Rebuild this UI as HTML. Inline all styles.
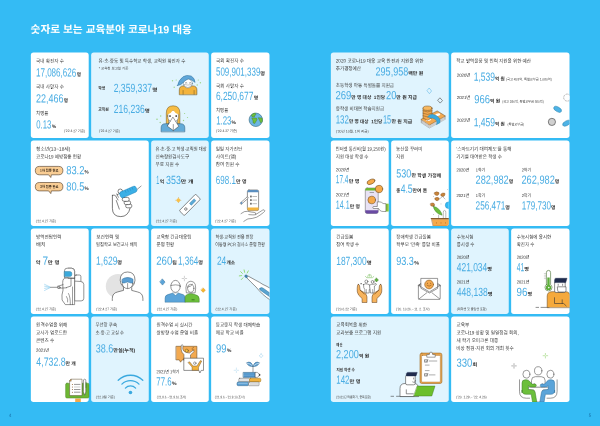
<!DOCTYPE html>
<html lang="ko">
<head>
<meta charset="utf-8">
<title>숫자로 보는 교육분야 코로나19 대응</title>
<style>
html,body{margin:0;padding:0;background:#34bbf4;}
body{width:600px;height:426px;overflow:hidden;position:relative;font-family:"Liberation Sans", "Noto Sans CJK KR", sans-serif;}
svg{display:block;position:absolute;left:0;top:0;}
text{font-family:"Liberation Sans", "Noto Sans CJK KR", sans-serif;white-space:pre;}
.title{font-size:10.65px;font-weight:700;fill:#ffffff;}
.lab{font-size:5.15px;font-weight:400;fill:#3c3c3c;}
.num{font-size:11.9px;font-weight:400;fill:#4aade3;}
.unit{font-size:4.9px;font-weight:700;fill:#303030;}
.sub{font-size:4.5px;font-weight:400;fill:#262626;}
.subb{font-size:4.2px;font-weight:700;fill:#333333;}
.foot{font-size:3.5px;font-weight:400;fill:#3c3c3c;}
.badge{font-size:3.7px;font-weight:700;fill:#3a2a1a;}
.pg{font-size:4.6px;font-weight:700;fill:#1c7db6;}
</style>
</head>
<body>
<svg width="600" height="426" viewBox="0 0 600 426">
<rect width="600" height="426" fill="#34bbf4"/>
<g id="cards">
<rect x="30.85" y="52.45" width="57.85" height="85.55" rx="2.7" fill="#ffffff"/>
<rect x="91.15" y="52.45" width="117.60" height="85.55" rx="2.7" fill="#e0f4fe"/>
<rect x="211.15" y="52.45" width="58.35" height="85.55" rx="2.7" fill="#ffffff"/>
<rect x="30.85" y="140.50" width="117.90" height="85.50" rx="2.7" fill="#ffffff"/>
<rect x="151.15" y="140.50" width="57.60" height="85.50" rx="2.7" fill="#e0f4fe"/>
<rect x="211.15" y="140.50" width="58.35" height="85.50" rx="2.7" fill="#ffffff"/>
<rect x="30.85" y="228.50" width="57.85" height="85.50" rx="2.7" fill="#ffffff"/>
<rect x="91.15" y="228.50" width="57.60" height="85.50" rx="2.7" fill="#ffffff"/>
<rect x="151.15" y="228.50" width="57.60" height="85.50" rx="2.7" fill="#ffffff"/>
<rect x="211.15" y="228.50" width="58.35" height="85.50" rx="2.7" fill="#e0f4fe"/>
<rect x="30.85" y="316.50" width="57.85" height="85.50" rx="2.7" fill="#ffffff"/>
<rect x="91.15" y="316.50" width="57.60" height="85.50" rx="2.7" fill="#e0f4fe"/>
<rect x="151.15" y="316.50" width="57.60" height="85.50" rx="2.7" fill="#ffffff"/>
<rect x="211.15" y="316.50" width="58.35" height="85.50" rx="2.7" fill="#ffffff"/>
<rect x="330.85" y="52.45" width="117.90" height="85.55" rx="2.7" fill="#e0f4fe"/>
<rect x="451.15" y="52.45" width="118.35" height="85.55" rx="2.7" fill="#ffffff"/>
<rect x="330.85" y="140.50" width="57.85" height="85.50" rx="2.7" fill="#ffffff"/>
<rect x="391.15" y="140.50" width="57.60" height="85.50" rx="2.7" fill="#ffffff"/>
<rect x="451.15" y="140.50" width="118.35" height="85.50" rx="2.7" fill="#ffffff"/>
<rect x="330.85" y="228.50" width="57.85" height="85.50" rx="2.7" fill="#ffffff"/>
<rect x="391.15" y="228.50" width="57.60" height="85.50" rx="2.7" fill="#ffffff"/>
<rect x="451.15" y="228.50" width="57.60" height="85.50" rx="2.7" fill="#e0f4fe"/>
<rect x="511.15" y="228.50" width="58.35" height="85.50" rx="2.7" fill="#ffffff"/>
<rect x="330.85" y="316.50" width="117.90" height="85.50" rx="2.7" fill="#e0f4fe"/>
<rect x="451.15" y="316.50" width="118.35" height="85.50" rx="2.7" fill="#ffffff"/>
</g>
<g id="icons">
<defs>
<clipPath id="clipJ"><rect x="211.15" y="228.5" width="58.35" height="85.5" rx="2.7"/></clipPath>
<clipPath id="clipP"><rect x="451.15" y="52.45" width="118.35" height="85.55" rx="2.7"/></clipPath>
<clipPath id="clipR"><rect x="391.15" y="140.5" width="57.6" height="85.5" rx="2.7"/></clipPath>
<clipPath id="clipW"><rect x="511.15" y="228.5" width="58.35" height="85.5" rx="2.7"/></clipPath>
<clipPath id="clipY"><rect x="451.15" y="316.5" width="118.35" height="85.5" rx="2.7"/></clipPath>
</defs>

<!-- B1: girl with mask -->
<g id="ic-girl" stroke-linejoin="round" stroke-linecap="round">
  <g fill="#9ed487">
    <circle cx="172.5" cy="80.8" r=".7"/><circle cx="176.2" cy="80" r=".6"/><circle cx="174.2" cy="87.2" r=".7"/>
    <circle cx="198.3" cy="80" r=".6"/><circle cx="200.4" cy="82.7" r=".7"/><circle cx="197.2" cy="85" r=".7"/>
  </g>
  <path d="M179.3 94.4V90q0-4.1 4.2-4.1h9.2q4.2 0 4.200 4.100v4.400z" fill="#f3b33c" stroke="#6b5320" stroke-width=".55"/>
  <path d="M183.100 94.300v-3.800M194.100 94.300v-3.800" stroke="#6b5320" stroke-width=".5" fill="none"/>
  <circle cx="187.9" cy="83.4" r="4.500" fill="#fff" stroke="#4a6a80" stroke-width=".45"/>
  <path d="M184.500 84.600q3.400 1 6.800 0v1.700q-3.400 2.500-6.800 0z" fill="#fff" stroke="#666" stroke-width=".4"/>
  <path d="M185.300 82.900q.8-.8 1.600 0M189.400 82.900q.8-.8 1.600 0" stroke="#333" stroke-width=".5" fill="none"/>
  <path d="M177.500 85.600Q178.500 80 183.100 76.700Q186.700 74.500 191.200 76Q194.700 78 195.100 82.400Q192.500 80 188.400 78.800Q184.500 80.500 182.800 83Q181 85 177.500 85.600Z" fill="#5fa6d8" stroke="#2f6f9a" stroke-width=".5"/>
</g>

<!-- B2: woman sneezing -->
<g id="ic-sneeze" stroke-linejoin="round" stroke-linecap="round">
  <g fill="#9ed487">
    <circle cx="160.7" cy="116" r=".7"/><circle cx="157" cy="119.3" r=".8"/><circle cx="160.2" cy="122.5" r=".7"/>
    <circle cx="184.6" cy="113.5" r=".6"/><circle cx="187.5" cy="117.5" r=".6"/><circle cx="183.5" cy="120.5" r=".7"/>
  </g>
  <path d="M166.300 123.900V113.200q0-7.400 6.800-7.400t6.800 7.400v10.700h-2.300v-8h-9v8z" fill="#f7bd45" stroke="#6b5320" stroke-width=".5"/>
  <path d="M161.100 131.500v-3.600q0-4.200 4.300-4.200h15.100q4.300 0 4.300 4.200v3.600z" fill="#63abd8" stroke="#2f5f80" stroke-width=".55"/>
  <path d="M167.700 116q0-5.700 5.400-5.700t5.400 5.700q0 5.900-5.400 5.900t-5.400-5.900z" fill="#fff" stroke="#454545" stroke-width=".45"/>
  <path d="M167.300 114.500q3.900-1.100 5.800-4.600q1.900 3.500 5.800 4.600q-.5-6.800-5.800-6.800t-5.800 6.800z" fill="#f7bd45"/>
  <circle cx="170" cy="116" r=".85" fill="#111"/><circle cx="176.200" cy="116" r=".85" fill="#111"/>
  <path d="M173.100 117.400l5.700 8.900l-5.400 4.300l-5.900-4.300z" fill="#fff" stroke="#3a3a3a" stroke-width=".5"/>
  <path d="M173.300 124.500v5.800" stroke="#3a3a3a" stroke-width=".5"/>
</g>

<!-- C: globe -->
<g id="ic-globe">
  <circle cx="255.800" cy="119.800" r="6.700" fill="#6cb6e2" stroke="#3c6f86" stroke-width=".65"/>
  <path d="M251.300 115.200q1.600-2 3.800-2.100l.9 1.600l-1.700 1l.3 1.400l-2.400-.2z" fill="#6cbf3b" stroke="#3f7a2a" stroke-width=".4"/>
  <path d="M251.700 117.900l4.900.2l.4 1.700l-2.300 3.800l-1.500-.6l-.3-2.500z" fill="#6cbf3b" stroke="#3f7a2a" stroke-width=".4"/>
  <path d="M258.200 117.700l3.900.3l.3 3.500l-1.600 1.500l-1.300-2.700z" fill="#6cbf3b" stroke="#3f7a2a" stroke-width=".4"/>
</g>

<!-- D: speech pills + syringe/hand -->
<g id="ic-pills" fill="#f9cd94" stroke="#4a3420" stroke-width=".6" stroke-linejoin="round">
  <path d="M39.500 166.400h19.200q4.200 0 4.200 4.200t-4.200 4.200h-7.300l-.6 2.700l-2.200-2.700h-9.100q-4.200 0-4.200-4.200t4.200-4.200z"/>
  <path d="M39.500 182.500h19.200q4.200 0 4.200 4.200t-4.200 4.200h-7.300l-.6 2.700l-2.200-2.700h-9.100q-4.200 0-4.200-4.200t4.200-4.200z"/>
</g>
<g id="ic-syringe" stroke-linejoin="round" stroke-linecap="round">
  <path d="M112.400 195.300v13q0 8.300 8.400 8.300q7.300 0 9.300-8.400" fill="none" stroke="#333" stroke-width=".65"/>
  <path d="M112.400 195.300q2-.7 3.200.5l2.400 4.200" fill="none" stroke="#333" stroke-width=".6"/>
  <path d="M116.300 200.500l3 8.600" fill="none" stroke="#333" stroke-width=".6"/>
  <g fill="#fff" stroke="#333" stroke-width=".6">
    <rect x="125.700" y="204.100" width="6.100" height="3.700" rx="1.600"/>
    <rect x="124.200" y="200.900" width="6.400" height="3.700" rx="1.600"/>
    <rect x="122.300" y="197.400" width="6.900" height="3.900" rx="1.700"/>
  </g>
  <circle cx="120.300" cy="191.300" r="2.300" fill="#fff" stroke="#333" stroke-width=".6"/>
  <path d="M117 194.800l3.200-1.700M118.400 197.300l-1.600-3.400" stroke="#333" stroke-width=".55" fill="none"/>
  <path d="M137 189.500l4.100-3.400" stroke="#333" stroke-width=".5"/>
  <g transform="rotate(-24 128.300 192)">
    <rect x="119.400" y="188.850" width="17.800" height="6.300" rx="2.200" fill="#3aafe6" stroke="#2487bd" stroke-width=".45"/>
    <path d="M126 189.200v2.200M128.500 189.200v2.200M131 189.200v2.200M133.500 189.200v2.200" stroke="#2487bd" stroke-width=".45"/>
  </g>
</g>

<!-- E: sparkle + test kit -->
<g id="ic-kit">
  <rect x="176.600" y="198.400" width="3.600" height="3.600" rx="1.100" transform="rotate(45 178.400 200.200)" fill="#f9c04a"/>
  <g fill="#a8741a"><circle cx="178.400" cy="197.700" r=".35"/><circle cx="178.400" cy="202.700" r=".35"/><circle cx="175.900" cy="200.200" r=".35"/><circle cx="180.900" cy="200.200" r=".35"/></g>
  <g transform="rotate(-45.500 189.900 204.900)">
    <rect x="178.300" y="201.350" width="23.200" height="7.100" rx="1.100" fill="#fff" stroke="#454545" stroke-width=".6"/>
    <rect x="190.600" y="203.550" width="6.600" height="2.700" rx=".6" fill="#5ba9d5" stroke="#3c7fa6" stroke-width=".4"/>
    <circle cx="184.100" cy="204.900" r="1.250" fill="#fff" stroke="#3a3a3a" stroke-width=".6"/>
  </g>
</g>

<!-- F: phone + hand -->
<g id="ic-phone" stroke-linejoin="round" stroke-linecap="round">
  <path d="M241 213.600q3.500-2.900 6.700-2.300q3.600.9 6.400 1.100q2.200.3 1.700 1.600q-.4 1-2.800.9l-4.200-.3" fill="none" stroke="#3a3a3a" stroke-width=".5"/>
  <path d="M255.500 214.700q4-2.600 7.200-4.600q1.700-.8 2 .4q.200 1-1.200 2q-3.400 2.800-6.800 4.700q-4.500 1.600-8.800 1.700q-2.400 1.300-4.100 2.500" fill="none" stroke="#3a3a3a" stroke-width=".5"/>
  <rect x="247.400" y="190" width="11.200" height="20.600" rx="1.500" fill="#fff" stroke="#3a3a3a" stroke-width=".55"/>
  <path d="M247.400 192.300v-.8q0-1.500 1.500-1.500h8.200q1.500 0 1.500 1.500v.8z" fill="#5b8fc0"/>
  <path d="M247.400 207.500v1.600q0 1.500 1.500 1.500h8.200q1.500 0 1.500-1.500v-1.600z" fill="#f3b33c"/>
  <g fill="#777" stroke="none"><rect x="250" y="195.600" width="1.800" height="1.800"/><rect x="250" y="199.200" width="1.800" height="1.800"/><rect x="250" y="202.800" width="1.800" height="1.800"/></g>
  <path d="M252.800 196.500h3.800M252.800 200.100h3.800M252.800 203.700h3.800" stroke="#777" stroke-width=".5"/>
  <path d="M240.300 203l7-6.200l1.100 1.200l-7 6.200z" fill="#fff" stroke="#3a3a3a" stroke-width=".5"/>
  <path d="M240.300 203l1.300-1.150l1.100 1.200l-1.300 1.150z" fill="#5b8fc0"/>
</g>

<!-- G: hazmat sprayer -->
<g id="ic-hazmat" fill="#fff" stroke="#3a3a3a" stroke-width=".55" stroke-linejoin="round" stroke-linecap="round">
  <path d="M44.500 284.300l5.500 2.700M44.500 286.200l5.500 1M44.500 288.400l5.500-.9M44.500 290.500l5.500-2.800" stroke="#7cc4ea" stroke-width=".5" stroke-dasharray=".8 .6" fill="none"/>
  <rect x="74.600" y="275" width="6.300" height="17" rx="1.500"/>
  <path d="M80.900 281.500q2.900.2 2.900 3v13.800q0 2.600-2.600 2.600h-6.600v-19.400z"/>
  <path d="M62.700 282q0-4.200 3.800-4.200h8.100v26.800h-9.300l-3.200-4.600q-.7-5 .8-9.500z"/>
  <path d="M68 277.800v-9.600h3.400q3.200 0 3.200 3.200v6.400z"/>
  <path d="M64.500 277.300v-6.500q0-2.600 2.600-2.600h4.300q3.200 0 3.200 3.200v6.400z"/>
  <path d="M64.500 271.500h5.300q2 0 2 2v1.100q0 2-2 2h-5.300z" fill="#3aa9db" stroke="#2b7fa6" stroke-width=".45"/>
  <path d="M50.500 287.300h7.500M57.500 286.300l5.500-1.600M58 288.300l8.500-.5M71 278.500v7.500l-4.500 1.500" fill="none"/>
  <circle cx="59" cy="287.400" r="1.100"/>
  <path d="M68.500 293.500q2 3.500 1.800 11M66.500 296.500q1.800 2.500 1.200 5.500" fill="none" stroke-width=".5"/>
  <path d="M72.500 287v17.500" fill="none" stroke-width=".5"/>
</g>

<!-- H: goggles person -->
<g id="ic-goggle" stroke-linejoin="round" stroke-linecap="round">
  <circle cx="118" cy="286.200" r="12.200" fill="#e3e3e3"/>
  <path d="M112.300 300.500v-2q0-5.500 5.500-6.600l5.700-1.500v-3.200q-3.300-3-3.300-7q0-8.200 7.400-8.200t7.400 8.200q0 4-3.300 7v3.200l5.700 1.500q5.500 1.100 5.500 6.600v2z" fill="#fff"/>
  <path d="M112.300 300.500v-2q0-5.500 5.500-6.600l5.700-1.500v-3.200q-3.300-3-3.300-7q0-8.200 7.400-8.200t7.400 8.200q0 4-3.300 7v3.200l5.700 1.500q5.500 1.100 5.500 6.600v2" fill="none" stroke="#3a3a3a" stroke-width=".6"/>
  <circle cx="127.600" cy="283.300" r="5.300" fill="#fff" stroke="#3a3a3a" stroke-width=".55"/>
  <path d="M122.200 279.200q1.600-1.600 5.400-1.600t5.400 1.600v3.200q-1.500 1.200-2.800.4q-2.600-1.600-5.200 0q-1.300.8-2.800-.4z" fill="#5b9fd3" stroke="#2f6f9a" stroke-width=".5"/>
  <path d="M127.600 283.500v4.800" stroke="#3a3a3a" stroke-width=".5"/>
</g>

<!-- I: two people -->
<g id="ic-people" stroke-linejoin="round" stroke-linecap="round">
  <path d="M162.500 279.100l2.500 3l-2.500 3l-2.500-3z" fill="#5ba4d9" stroke="#2f6f9a" stroke-width=".5"/>
  <path d="M203.200 288l2.200 2.200l-2.200 2.200l-2.200-2.200z" fill="#f7b731" stroke="#c98a1a" stroke-width=".4"/>
  <path d="M184.4 276.2v1.5M184.4 279.3v1.5M182.1 278.5h1.5M185.2 278.5h1.5" stroke="#999" stroke-width=".45"/>
  <path d="M165.100 301.900v-3.700q0-3 2.800-3.600l4.500-1.400h6.200l4.500 1.400q2 .6 2 3.600v3.700z" fill="#5ba4d9" stroke="#2f6f9a" stroke-width=".5"/>
  <path d="M172.800 293.300l2.700 2.200l2.700-2.200" fill="#fff" stroke="#2f6f9a" stroke-width=".45"/>
  <path d="M185.100 301.900v-4.100q0-2.700 2.200-3.300l2-.8h2.800l3.500 1.100q3.600.8 3.600 4v3.100z" fill="#6cbf3b" stroke="#3f7a2a" stroke-width=".5"/>
  <path d="M192 299.800h2.200" stroke="#2b5a1a" stroke-width=".7"/>
  <ellipse cx="175.500" cy="286.400" rx="4.700" ry="6" fill="#fff" stroke="#3a3a3a" stroke-width=".55"/>
  <path d="M170.900 285.400q4.600-1.200 9.200 0" fill="none" stroke="#3a3a3a" stroke-width=".5"/>
  <path d="M186.300 292.500q-1-5.500.3-8.500q1.400-2.800 4.300-2.800q3.300.2 4.300 3q1 3.300 0 8.300z" fill="#fff" stroke="#3a3a3a" stroke-width=".5"/>
  <ellipse cx="190.700" cy="288.300" rx="3.200" ry="4" fill="#fff" stroke="#3a3a3a" stroke-width=".5"/>
  <path d="M187.500 287.200q3.500-.5 5-2.800" fill="none" stroke="#3a3a3a" stroke-width=".5"/>
</g>

<!-- J: thermometer (clipped by card) -->
<g id="ic-thermo" clip-path="url(#clipJ)" stroke-linejoin="round" stroke-linecap="round">
  <path d="M240.700 271.700l1.700 1.700M244.100 269.900l.5 2.400M248.300 270.900l-1.100 2.100M239.300 275.900l2.400-.3M241.300 279.600l1.700-1.800" stroke="#86d662" stroke-width=".85" fill="none"/>
  <path d="M246.400 275.200q5 2.600 9 4.900q4 2 7.600 4.400q4 1.700 8 4.300v11.800q-5-3.300-8.700-6.700q-3.600-3.600-6.300-6.900q-4.600-4.400-10.300-10.300z" fill="#fff" stroke="#3a3a3a" stroke-width=".55"/>
  <path d="M259.900 288.300q1.400-1.500 3-.3l8.600 6.200v3.800l-11.200-7.800q-1.300-.9-.4-1.900z" fill="#5ba4d0" stroke="#2f6f9a" stroke-width=".45"/>
  <ellipse cx="246.100" cy="276.300" rx="1.500" ry="1.200" transform="rotate(40 246.100 276.300)" fill="#3f86ae" stroke="#2f6f9a" stroke-width=".4"/>
</g>

<!-- K: green clipboard -->
<g id="ic-board" stroke-linejoin="round" stroke-linecap="round">
  <rect x="75.200" y="398.500" width="5.600" height="3.500" fill="#f5a94a"/>
  <rect x="65.600" y="383.200" width="23.400" height="14.900" rx="1.400" fill="#6db733" stroke="#3f7a1a" stroke-width=".4"/>
  <path d="M71.200 379.200h10.800v16.400h-12.400v-14.700z" fill="#fff" stroke="#5a4a2a" stroke-width=".5"/>
  <path d="M69.600 380.900l1.600-1.700v1.700z" fill="#f5a94a" stroke="#5a4a2a" stroke-width=".4"/>
  <path d="M74.400 384.400h5.600M74.400 389.500h5.600M74.400 392.200h5.600" stroke="#454545" stroke-width=".55"/>
  <path d="M74.400 387h5.600" stroke="#bbb" stroke-width=".7"/>
  <g fill="#8a5a2a"><circle cx="72.400" cy="384.400" r=".5"/><circle cx="72.400" cy="387" r=".5"/><circle cx="72.400" cy="389.500" r=".5"/><circle cx="72.400" cy="392.200" r=".5"/></g>
  <path d="M83.400 380.600q0-1.400 1.200-1.400t1.200 1.400v11.400l-1.200 3.200l-1.200-3.200z" fill="#fff" stroke="#3a3a3a" stroke-width=".5"/>
  <path d="M86.100 382.500v5" stroke="#4a8a2a" stroke-width=".7"/>
</g>

<!-- L: wifi -->
<g id="ic-wifi" fill="none" stroke="#3ba9df" stroke-width="1.3" stroke-linecap="round">
  <path d="M118.200 380.200a17.700 17.700 0 0 1 24.600 0"/>
  <path d="M121.900 384.100a12.300 12.300 0 0 1 17.100 0"/>
  <path d="M125.400 388.100a7 7 0 0 1 10.200 0"/>
  <circle cx="130.450" cy="392.500" r="1.800" fill="#3ba9df" stroke="none"/>
</g>

<!-- M: speech bubbles with figures -->
<g id="ic-class" stroke-linejoin="round" stroke-linecap="round">
  <path d="M176.300 346.300h20.600v13.600h-14.600l-1.800 2.300l-1.200-2.300h-3z" fill="#f3a94f" stroke="#6b4a20" stroke-width=".55"/>
  <path d="M181.200 346.200q-.2-1.700 1-1.600q1 .2.700 1.600q-.7 3.200.8 4.800q1.200 1.200 3 1.500l2.700.6l3.800-2.800l.9 1.200l-3.600 3.400v5h-6.500v-5.300q-2.600-2-2.800-5z" fill="#fff" stroke="#3a3a3a" stroke-width=".45"/>
  <circle cx="186.800" cy="350.700" r="1.600" fill="#f7c23c" stroke="#6b4a20" stroke-width=".5"/>
  <path d="M192 348.500l1.700-1M192.300 349.700l1.800.3" stroke="#6b4a20" stroke-width=".5"/>
  <path d="M184.200 358.200h19.300v12.200h-2.300l-1.300 2.600l-1-2.600h-14.700z" fill="#fff" stroke="#3a3a3a" stroke-width=".55"/>
  <path d="M188.300 362.400l1.300-.6l3.400 4.200h3.900l3.500-5.400l1.300.5l-3.200 6.200v3h-6.400v-3z" fill="#f3b33c" stroke="#6b4a20" stroke-width=".45"/>
  <circle cx="194.800" cy="363.200" r="1.250" fill="#fff" stroke="#3a3a3a" stroke-width=".45"/>
</g>

<!-- N: books + plant -->
<g id="ic-books" stroke-linejoin="round" stroke-linecap="round">
  <path d="M261.100 353.700q.4 1.700 2.100 2.100q-1.700.4-2.100 2.100q-.4-1.700-2.100-2.100q1.700-.4 2.100-2.100z" fill="none" stroke="#a8d4ec" stroke-width=".5"/>
  <path d="M236.4 368.0v1.5M236.4 371.1v1.5M234.1 370.3h1.5M237.2 370.3h1.5" stroke="#a8d4ec" stroke-width=".5"/>
  <path d="M253 366.500v5.600" stroke="#777" stroke-width=".7"/>
  <path d="M253 366.400q-4.600.6-6.500-3.600q4.800-2.500 6.500 3.600z" fill="#5b9fd3" stroke="#2f5f80" stroke-width=".45"/>
  <path d="M253 366.400q4.600.6 6.500-3.600q-4.800-2.500-6.500 3.600z" fill="#5b9fd3" stroke="#2f5f80" stroke-width=".45"/>
  <path d="M247 363.200q3 .2 5 2.200M259 363.200q-3 .2-5 2.200" stroke="#fff" stroke-width=".55" fill="none"/>
  <path d="M243.400 372.400h12v5h-12z" fill="#4a8fc7" stroke="#2f5f80" stroke-width=".45"/>
  <path d="M243.600 374h11.600M243.600 375.700h11.600" stroke="#8cc0e6" stroke-width=".45"/>
  <path d="M255.400 372.400h1.800l3.200 2.500l-3.200 2.500h-1.800z" fill="#fff" stroke="#3a3a3a" stroke-width=".45"/>
  <path d="M258.900 373.800l1.500 1.100l-1.500 1.100z" fill="#222"/>
  <rect x="238.900" y="378.300" width="10.500" height="3.300" rx=".8" fill="#fff" stroke="#454545" stroke-width=".45"/>
  <path d="M240 380h8" stroke="#bbb" stroke-width=".8"/>
  <rect x="249.400" y="378.200" width="11.400" height="3.700" rx="1.200" fill="#f3b33c" stroke="#8a6a20" stroke-width=".45"/>
  <rect x="237" y="382" width="11.600" height="3.700" rx="1.300" fill="#5b9fd3" stroke="#2f5f80" stroke-width=".45"/>
  <path d="M238.200 383.200h9" stroke="#b5d8f0" stroke-width=".7"/>
  <rect x="248.600" y="382.100" width="10.400" height="3.600" rx=".6" fill="#fff" stroke="#454545" stroke-width=".45"/>
  <path d="M250 384h8" stroke="#999" stroke-width=".7"/>
</g>

<!-- O: sparkles + money -->
<g id="ic-money" stroke-linejoin="round" stroke-linecap="round">
  <path d="M429.400 88.300l2.200 2.700l-2.200 2.700l-2.200-2.700z" fill="none" stroke="#5bb6e6" stroke-width=".55"/>
  <path d="M440.200 98.100l2.300 2.500l-2.300 2.500l-2.300-2.500z" fill="none" stroke="#3a3a3a" stroke-width=".55"/>
  <!-- bills: layered sheets -->
  <g fill="#fff" stroke="#777" stroke-width=".4">
    <path d="M421.200 122.300l16-8.400l8.300 5.200l-15.800 8.800z"/>
    <path d="M421.200 121.300l16-8.400l8.300 5.200l-15.800 8.800z"/>
    <path d="M421.200 120.300l16-8.400l8.300 5.200l-15.800 8.800z"/>
  </g>
  <path d="M421.200 119.300l16-8.400l8.300 5.200l-15.800 8.800z" fill="#f3a94f" stroke="#6b4a20" stroke-width=".5"/>
  <ellipse cx="428.600" cy="119.700" rx="2.600" ry="1.300" fill="#fff" transform="rotate(-8 428.600 119.700)"/>
  <ellipse cx="437.800" cy="114.700" rx="2.600" ry="1.300" fill="#fff" transform="rotate(-8 437.800 114.700)"/>
  <!-- coin stack -->
  <path d="M423 108.200v9.800l4.500 2.300l4.500-2.500v-9.600z" fill="#f3a94f" stroke="#6b4a20" stroke-width=".5"/>
  <ellipse cx="427.500" cy="108.200" rx="4.500" ry="2.200" fill="#f7b860" stroke="#6b4a20" stroke-width=".5"/>
  <path d="M423 110.800q4.500 2.400 9 0M423 113.300q4.500 2.400 9 0M423 115.800q4.500 2.400 9 0" fill="none" stroke="#6b4a20" stroke-width=".45"/>
  <!-- blue band -->
  <path d="M427.700 116.600q1.800-2.400 5-2.300q3.800.6 6.400 3.600q1.700 2.300 .9 4.800l-3.600 2q1.400-3-.7-5q-2.600-2.300-5.500-1.600z" fill="#3aa9df" stroke="#2b7fa6" stroke-width=".4"/>
</g>

<!-- P: pills -->
<g id="ic-caps" clip-path="url(#clipP)">
  <circle cx="567.200" cy="97.600" r="3.500" fill="#fff" stroke="#555" stroke-width=".4" stroke-dasharray="2.2 .7"/>
  <ellipse cx="557.600" cy="109.300" rx="4.300" ry="2.300" transform="rotate(30 557.600 109.300)" fill="#4eb3e6" stroke="#2b7fa6" stroke-width=".45"/>
  <circle cx="551.900" cy="121.900" r="3.600" fill="#d0d0d0" stroke="#3a3a3a" stroke-width=".6"/>
  <ellipse cx="566.600" cy="123.200" rx="4.300" ry="2.300" transform="rotate(-28 566.600 123.200)" fill="#4eb3e6" stroke="#2b7fa6" stroke-width=".45"/>
</g>

<!-- Q: phone + coins + hand -->
<g id="ic-pay" stroke-linejoin="round" stroke-linecap="round">
  <rect x="365.300" y="188" width="12.900" height="25.500" rx="1.800" fill="#e8e2f4" stroke="#666" stroke-width=".55"/>
  <path d="M365.300 190.600v-.8q0-1.800 1.800-1.800h9.300q1.800 0 1.800 1.800v.8z" fill="#6db733"/>
  <path d="M365.300 210.200v1.500q0 1.800 1.800 1.800h9.300q1.800 0 1.800-1.800v-1.500z" fill="#6a4ba3"/>
  <path d="M370 192.500h3.600" stroke="#666" stroke-width=".55"/>
  <ellipse cx="371" cy="181.800" rx="4.200" ry="2.300" transform="rotate(-24 371 181.800)" fill="#f5a94a" stroke="#6b4a20" stroke-width=".55"/>
  <circle cx="379" cy="189" r="3.700" fill="#f5a94a" stroke="#6b4a20" stroke-width=".55"/>
  <circle cx="371.700" cy="200" r="3.800" fill="#f5a94a" stroke="#6b4a20" stroke-width=".55"/>
  <path d="M385.600 203.700h3.100v7.800h-3.100z" fill="#8dc63f"/>
  <path d="M385.600 203.700l-2.500-.2q-1.700-1.600-3.200-1.600h-2.600v4.600h-3.500q-1 0-1 1t1 1h4.800l1.200 1.800q1.300 1.200 3.300 1.200h2.500z" fill="#fff" stroke="#454545" stroke-width=".5"/>
</g>

<!-- R: basket -->
<g id="ic-basket" clip-path="url(#clipR)" stroke-linejoin="round" stroke-linecap="round">
  <circle cx="448.600" cy="205.200" r="3.300" fill="#34bbf4" stroke="#2b8fc4" stroke-width=".5"/>
  <g fill="#c9853c" stroke="#7a4a1a" stroke-width=".4">
    <path d="M434.500 192.600q2.200-1.600 4.400 0q.6 1.600-1 2.700q-2.300.6-3.400-1z"/>
    <path d="M441 194q1.800-1.800 3.900-.7q.5 1.800-1 3q-2 .6-3-.6z"/>
    <path d="M435 198q2.300-1.400 4.200.2q.2 1.500-1.300 2.400q-2.200.3-3-1.200z"/>
    <path d="M430.500 203.600q1.700-1.200 3.400-.3q1.200 1.300.4 2.800q-2 .7-3.400-.4z"/>
  </g>
  <path d="M439.500 199l3-2.500l2.500 2.500" fill="none" stroke="#777" stroke-width=".45"/>
  <path d="M433.300 206.200q3.700.7 6.200 3.700q2.300 3 2.600 5.300q-3.800-.6-6.400-3.700q-2.300-2.900-2.400-5.300z" fill="#6cbf3b" stroke="#3f7a2a" stroke-width=".45"/>
  <path d="M443.300 218v-5.600q0-2 1.300-2q1.200 0 1.200 2v5.600" fill="#fff" stroke="#777" stroke-width=".5"/>
  <path d="M438.600 215.300v2.600" stroke="#777" stroke-width=".5"/>
  <g fill="#666"><circle cx="433.400" cy="196.600" r=".35"/><circle cx="441" cy="203.900" r=".35"/><circle cx="433.400" cy="214.300" r=".4"/><circle cx="447.300" cy="189.600" r=".3"/></g>
  <path d="M431.800 219.200h17.500v7h-15.900z" fill="#f5a94a" stroke="#7a4a1a" stroke-width=".45"/>
  <path d="M431.200 218.500h18.500" stroke="#7a4a1a" stroke-width=".9"/>
  <path d="M436.500 222.500v.8M441 222.500v.8M445.500 222.500v.8" stroke="#b8742a" stroke-width=".6"/>
</g>

<!-- T: hands holding people -->
<g id="ic-hands" stroke-linejoin="round" stroke-linecap="round">
  <path d="M367.800 276.500l.6-1.700M369.600 276.200v-1.900M371.400 276.500l-.6-1.700M366.500 277.400l-1-.9M372.800 277.400l1-.9" stroke="#5dae3b" stroke-width=".5" fill="none"/>
  <path d="M367.200 277.700h4.800" stroke="#5dae3b" stroke-width=".5"/>
  <path d="M376.500 278l.9 1.100l1.100.9l-1.100.9l-.9 1.100l-.9-1.100l-1.100-.9l1.100-.9z" fill="#5dae3b" stroke="#3f7a2a" stroke-width=".4"/>
  <circle cx="361.100" cy="283.700" r=".6" fill="#333"/>
  <g fill="#fff" stroke="#3a3a3a" stroke-width=".5">
    <path d="M363.500 284.500q2-1.200 4.200-.4l2.600 1.100v4.300l-1.100.2v3.300h-4.300v-3.300q-1.600-1.500-1.400-5.200z"/>
    <circle cx="366.400" cy="281.500" r="1.500"/>
    <path d="M369.800 285.200l1.700-.9h2.300l2.100-.8l.5 1.100l-2 1.400v3.700l-.4 3.300h-3.500l-.4-3.300z"/>
    <circle cx="372.600" cy="281.900" r="1.400"/>
    <path d="M366.400 289.500v3.500M372.600 289.500v3.500" fill="none" stroke-width=".4"/>
  </g>
  <g fill="#f7b35c" stroke="#5a3a1a" stroke-width=".5">
    <path d="M358.300 284.400q1.200.1 1.300 1.500l.5 4.200l3.300 2q3.600 2.200 3.600 4.800v5.600h-4.900v-4q-4.300-3.300-4.800-6.500q-.3-3.600 .2-6.500q.2-1.100.8-1.100z"/>
    <path d="M380.700 284.400q-1.200.1-1.300 1.500l-.5 4.200l-3.300 2q-3.600 2.200-3.600 4.800v5.600h4.900v-4q4.300-3.300 4.800-6.500q.3-3.600-.2-6.500q-.2-1.100-.8-1.100z"/>
  </g>
  <path d="M360.300 290.300l3.800 3.700M378.700 290.300l-3.800 3.700" stroke="#5a3a1a" stroke-width=".5" fill="none"/>
</g>

<!-- U: envelope with smiley -->
<g id="ic-mail" stroke-linejoin="round" stroke-linecap="round">
  <path d="M418.400 285.200l2.800-2v8z" fill="#fff" stroke="#454545" stroke-width=".5"/>
  <path d="M440.200 285.200l-2.800-2v8z" fill="#fff" stroke="#454545" stroke-width=".5"/>
  <rect x="418.400" y="285" width="21.800" height="14.400" rx="1" fill="#fff" stroke="#454545" stroke-width=".55"/>
  <path d="M421.200 278.400h16.400v10l-8.200 4.600l-8.200-4.600z" fill="#fff" stroke="#454545" stroke-width=".55"/>
  <path d="M418.600 285.400l10.800 6.500l10.600-6.500M418.900 299l7.800-6.200M439.800 299l-7.800-6.200" fill="none" stroke="#454545" stroke-width=".55"/>
  <circle cx="429.100" cy="284.500" r="4.400" fill="#f3a94f" stroke="#8a5a20" stroke-width=".6"/>
  <circle cx="427.500" cy="283.300" r=".5" fill="#8a5a20"/><circle cx="430.700" cy="283.300" r=".5" fill="#8a5a20"/>
  <path d="M427 285.300q2.100 2 4.200 0" fill="none" stroke="#8a5a20" stroke-width=".6"/>
</g>

<!-- W: thermometer + masked person -->
<g id="ic-fever" clip-path="url(#clipW)" stroke-linejoin="round" stroke-linecap="round">
  <path d="M536 307.400h2.600M541 307.400h8" stroke="#333" stroke-width=".55"/>
  <path d="M544.300 273.500h1.500M544.300 275.200h1.500M544.300 276.900h1.500M544.300 278.600h1.500" stroke="#aaa" stroke-width=".5"/>
  <path d="M546.400 284.600v-12q0-2.200 2.100-2.200t2.100 2.200v12q1.400 1.100 1.400 2.800q0 3.500-3.500 3.500t-3.500-3.500q0-1.700 1.400-2.800z" fill="#fff" stroke="#3f6a2a" stroke-width=".6"/>
  <path d="M547.300 277.500h2.400v7.600q1.500.9 1.500 2.400q0 2.600-2.700 2.600t-2.700-2.600q0-1.500 1.500-2.400z" fill="#5dae3b"/>
  <circle cx="548.800" cy="287.600" r=".8" fill="#fff"/>
  <path d="M547.200 307.300v-11q0-4.600 4.600-4.600h13.600q4.600 0 4.600 4.600v11z" fill="#f5a93c" stroke="#6b4a20" stroke-width=".55"/>
  <rect x="554.600" y="281.500" width="10.600" height="11" rx="1.500" fill="#fff" stroke="#333" stroke-width=".55"/>
  <path d="M555.600 278.300h11.400l-1.300 4.300h-11.100v-2.600z" fill="#1f2b4d" stroke="#1f2b4d" stroke-width=".5"/>
  <path d="M558.200 284.200v1.200M562.600 284.200v1.200" stroke="#333" stroke-width=".55"/>
  <path d="M557.700 286.800h8.300v4q0 1.200-1.200 1.200h-5.900q-1.200 0-1.200-1.200z" fill="#fff" stroke="#333" stroke-width=".55"/>
  <path d="M554.500 297.700v5.800h9.200l2.500 2.400M562.200 299.800v3.700" fill="none" stroke="#333" stroke-width=".6"/>
</g>

<!-- X: clipboard + person + laptop -->
<g id="ic-check" stroke-linejoin="round" stroke-linecap="round">
  <path d="M391 396.300h2.600M396.500 396.300h17.500" stroke="#333" stroke-width=".55"/>
  <rect x="420" y="353.100" width="21.900" height="30.400" rx="1.800" fill="#eaa650" stroke="#a06a24" stroke-width=".6"/>
  <rect x="421.600" y="355.400" width="18.700" height="26.600" rx=".8" fill="#fff" stroke="#a06a24" stroke-width=".4"/>
  <path d="M426.800 356.800v-2.200h2.500q.2-2.600 1.700-2.600t1.700 2.600h2.500v2.200z" fill="#fff" stroke="#454545" stroke-width=".5"/>
  <rect x="424.900" y="359.700" width="2.500" height="2.500" fill="#fff" stroke="#454545" stroke-width=".5"/>
  <rect x="424.900" y="373.600" width="2.500" height="2.500" fill="#fff" stroke="#454545" stroke-width=".5"/>
  <path d="M425.300 360.800l.9.900l1.600-2M425.300 374.700l.9.900l1.600-2" fill="none" stroke="#454545" stroke-width=".5"/>
  <path d="M429.200 361h7.600M425.300 365.100h3.800M425.300 370.600h3.800M429.200 374.900h5.800" stroke="#666" stroke-width=".55"/>
  <path d="M400 396.200v-7.700q0-5 5-5h9q4.500 0 4.500 5v7.700z" fill="#fff" stroke="#333" stroke-width=".55"/>
  <rect x="405.600" y="375" width="9.600" height="9.800" rx="1.500" fill="#fff" stroke="#333" stroke-width=".55"/>
  <path d="M407.600 372.400h9.600l-1.200 3.500h-9.600v-2.200z" fill="#1f2b4d" stroke="#1f2b4d" stroke-width=".5"/>
  <path d="M413.600 378v1M415.200 380.200q.8.400 0 1.100M412.700 382q1.200.8 2.400.2" fill="none" stroke="#333" stroke-width=".5"/>
  <path d="M406.300 389.800v4h7" fill="none" stroke="#333" stroke-width=".55"/>
  <path d="M417.400 386.100h17.600l-3.200 9.900h-17.800z" fill="#6cbf2b" stroke="#3f7a1a" stroke-width=".45"/>
</g>

<!-- Y: meeting -->
<g id="ic-meet" clip-path="url(#clipY)" stroke-linejoin="round" stroke-linecap="round">
  <path d="M545.4 353.4v1.5M545.4 356.5v1.5M543.1 355.7h1.5M546.2 355.7h1.5" stroke="#8ccf63" stroke-width=".55"/>
  <path d="M514.0 363.6v1.5M514.0 366.7v1.5M511.7 365.9h1.5M514.8 365.9h1.5" stroke="#666" stroke-width=".5"/>
  <path d="M519.500 379.800v11.600q0 6.800 6.800 6.800h3.300M557.100 379.800v11.600q0 6.800-6.800 6.800h-3.300" fill="none" stroke="#454545" stroke-width=".55"/>
  <path d="M531.500 387v-6.500q0-3.800 3.800-3.800h6q3.800 0 3.800 3.800v6.500z" fill="#fff" stroke="#454545" stroke-width=".55"/>
  <path d="M534.300 383.500v3.500M542.300 383.500v3.500" stroke="#454545" stroke-width=".5"/>
  <path d="M527.700 387.200h21.400l-1 2.800h-5.200l-1.700 12h-5.600l-1.700-12h-5.200z" fill="#fff" stroke="#454545" stroke-width=".5"/>
  <path d="M522 392.500v-9.500q0-3.200 3.200-3.200h1.500q1.700 0 2.900 1.500l2.400 2.800h3q1.300 0 1.300 1.400t-1.300 1.400h-5l-1.600-1.200v3.700l4.300.5q2 .4 2.400 2.200l1.700 9.900h-4.300l-1.300-7.700h-5.500q-3.700 0-3.700-3.800z" fill="#6cbf3b" stroke="#3f7a2a" stroke-width=".5"/>
  <path d="M554.600 392.500v-9.500q0-3.200-3.200-3.200h-1.500q-1.700 0-2.900 1.500l-2.400 2.800h-3q-1.300 0-1.300 1.400t1.300 1.400h5l1.600-1.200v3.700l-4.300.5q-2 .4-2.400 2.200l-1.700 9.900h4.300l1.300-7.700h5.500q3.700 0 3.700-3.800z" fill="#5ba4d9" stroke="#2f6f9a" stroke-width=".5"/>
  <ellipse cx="526.400" cy="374.200" rx="3.500" ry="3.900" fill="#fff" stroke="#454545" stroke-width=".55"/>
  <ellipse cx="538.200" cy="370.800" rx="3.700" ry="4.100" fill="#fff" stroke="#454545" stroke-width=".55"/>
  <ellipse cx="550.400" cy="374.200" rx="3.500" ry="3.900" fill="#fff" stroke="#454545" stroke-width=".55"/>
</g>

</g>
<g id="texts">
<text class="title" transform="matrix(1.0044 0.00175 -0.00175 1 30.57 32.95)">숫자로 보는 교육분야 코로나19 대응</text>
<text class="lab" transform="matrix(0.8903 0.00155 -0.00175 1 36.07 62.66)">국내 확진자 수</text>
<text class="num" transform="matrix(0.6776 0.00118 -0.00175 1 35.94 76.57)">17,086,626</text>
<text class="unit" transform="matrix(0.9524 0.00166 -0.00175 1 76.67 76.13)">명</text>
<text class="lab" transform="matrix(0.8903 0.00155 -0.00175 1 36.07 88.36)">국내 사망자 수</text>
<text class="num" transform="matrix(0.7548 0.00132 -0.00175 1 36.05 102.58)">22,466</text>
<text class="unit" transform="matrix(0.9524 0.00166 -0.00175 1 63.67 102.13)">명</text>
<text class="lab" transform="matrix(0.8793 0.00153 -0.00175 1 36.03 114.97)">치명률</text>
<text class="num" transform="matrix(0.6481 0.00113 -0.00175 1 36.27 128.39)">0.13</text>
<text class="unit" transform="matrix(0.9604 0.00168 -0.00175 1 51.91 127.89)">%</text>
<text class="foot" transform="matrix(0.9542 0.00167 -0.00175 1 64.10 132.11)">('22.4.27 기준)</text>
<text class="lab" transform="matrix(0.8803 0.00154 -0.00175 1 98.52 62.61)">유·초·중등 및 특수학교 학생, 교직원 확진자 수</text>
<text class="foot" transform="matrix(0.9923 0.00173 -0.00175 1 98.67 69.50)">* 교육청 보고일 기준</text>
<text class="subb" transform="matrix(0.8998 0.00157 -0.00175 1 98.35 89.57)">학생</text>
<text class="num" transform="matrix(0.7240 0.00126 -0.00175 1 113.67 91.92)">2,359,337</text>
<text class="unit" transform="matrix(1.1701 0.00204 -0.00175 1 152.30 91.53)">명</text>
<text class="subb" transform="matrix(0.8985 0.00157 -0.00175 1 98.35 110.62)">교직원</text>
<text class="num" transform="matrix(0.7240 0.00126 -0.00175 1 113.67 112.93)">216,236</text>
<text class="unit" transform="matrix(1.1156 0.00195 -0.00175 1 144.82 112.53)">명</text>
<text class="foot" transform="matrix(0.9496 0.00166 -0.00175 1 99.00 132.11)">('22.4.27 기준)</text>
<text class="lab" transform="matrix(0.8903 0.00155 -0.00175 1 216.07 62.46)">국외 확진자 수</text>
<text class="num" transform="matrix(0.6707 0.00117 -0.00175 1 215.98 75.62)">509,901,339</text>
<text class="unit" transform="matrix(1.0612 0.00185 -0.00175 1 260.34 75.23)">명</text>
<text class="lab" transform="matrix(0.8903 0.00155 -0.00175 1 216.07 87.81)">국외 사망자 수</text>
<text class="num" transform="matrix(0.7086 0.00124 -0.00175 1 215.88 99.97)">6,250,677</text>
<text class="unit" transform="matrix(1.0068 0.00176 -0.00175 1 253.65 99.53)">명</text>
<text class="lab" transform="matrix(0.8573 0.00150 -0.00175 1 216.04 111.92)">치명률</text>
<text class="num" transform="matrix(0.6576 0.00115 -0.00175 1 216.25 124.59)">1.23</text>
<text class="unit" transform="matrix(1.0324 0.00180 -0.00175 1 231.60 123.99)">%</text>
<text class="foot" transform="matrix(0.9542 0.00167 -0.00175 1 216.10 131.91)">('22.4.27 기준)</text>
<text class="lab" transform="matrix(0.9307 0.00162 -0.00175 1 36.06 150.65)">청소년(13~18세)</text>
<text class="lab" transform="matrix(0.8815 0.00154 -0.00175 1 36.07 158.39)">코로나19 예방접종 현황</text>
<text class="badge" transform="matrix(0.8669 0.00151 -0.00175 1 40.11 171.77)">1차 접종 완료</text>
<text class="num" transform="matrix(0.7861 0.00137 -0.00175 1 66.23 174.24)">83.2</text>
<text class="unit" transform="matrix(0.9604 0.00168 -0.00175 1 84.51 173.59)">%</text>
<text class="badge" transform="matrix(0.8623 0.00150 -0.00175 1 40.20 187.87)">2차 접종 완료</text>
<text class="num" transform="matrix(0.7819 0.00136 -0.00175 1 66.23 190.49)">80.5</text>
<text class="unit" transform="matrix(0.9604 0.00168 -0.00175 1 84.51 189.89)">%</text>
<text class="foot" transform="matrix(0.9219 0.00161 -0.00175 1 35.81 222.31)">('22.4.27 기준)</text>
<text class="lab" transform="matrix(0.8263 0.00144 -0.00175 1 155.53 150.64)">유·초·중·고 학생·교직원 대상</text>
<text class="lab" transform="matrix(0.8906 0.00155 -0.00175 1 155.47 158.40)">신속항원검사도구</text>
<text class="lab" transform="matrix(0.8931 0.00156 -0.00175 1 155.52 166.11)">무료 지원 수</text>
<text class="num" transform="matrix(0.4584 0.00080 -0.00175 1 156.22 183.90)">1</text>
<text class="unit" transform="matrix(0.9807 0.00171 -0.00175 1 159.76 183.33)">억</text>
<text class="num" transform="matrix(0.7447 0.00130 -0.00175 1 166.03 183.89)">353</text>
<text class="unit" transform="matrix(1.2176 0.00212 -0.00175 1 180.84 183.33)">만 개</text>
<text class="foot" transform="matrix(0.9588 0.00167 -0.00175 1 155.80 222.31)">('22.4.27 기준)</text>
<text class="lab" transform="matrix(0.8860 0.00155 -0.00175 1 215.68 150.66)">일일 자가진단</text>
<text class="lab" transform="matrix(0.9201 0.00161 -0.00175 1 215.86 158.41)">사이트(앱)</text>
<text class="lab" transform="matrix(0.8987 0.00157 -0.00175 1 215.77 166.11)">참여 인원 수</text>
<text class="num" transform="matrix(0.6740 0.00118 -0.00175 1 215.80 183.89)">698.1</text>
<text class="unit" transform="matrix(1.0215 0.00178 -0.00175 1 235.90 183.33)">만 명</text>
<text class="foot" transform="matrix(0.9311 0.00162 -0.00175 1 215.30 222.31)">('22.4.27 기준)</text>
<text class="lab" transform="matrix(0.9015 0.00157 -0.00175 1 35.93 238.66)">방역전담인력</text>
<text class="lab" transform="matrix(1.0245 0.00179 -0.00175 1 35.88 246.22)">배치</text>
<text class="unit" transform="matrix(1.0324 0.00180 -0.00175 1 35.80 264.23)">약</text>
<text class="num" transform="matrix(0.8403 0.00147 -0.00175 1 42.60 264.75)">7</text>
<text class="unit" transform="matrix(1.1258 0.00196 -0.00175 1 47.87 264.33)">만 명</text>
<text class="foot" transform="matrix(0.9219 0.00161 -0.00175 1 35.81 310.31)">('22.4.27 기준)</text>
<text class="lab" transform="matrix(0.9223 0.00161 -0.00175 1 96.26 238.66)">보건인력 및</text>
<text class="lab" transform="matrix(0.8227 0.00144 -0.00175 1 96.12 246.20)">밀집학교 보건교사 배치</text>
<text class="num" transform="matrix(0.7149 0.00125 -0.00175 1 96.10 264.69)">1,629</text>
<text class="unit" transform="matrix(1.0612 0.00185 -0.00175 1 117.24 264.33)">명</text>
<text class="foot" transform="matrix(0.9450 0.00165 -0.00175 1 96.30 310.31)">('22.4.27 기준)</text>
<text class="lab" transform="matrix(0.8893 0.00155 -0.00175 1 156.47 238.65)">교육청 긴급대응팀</text>
<text class="lab" transform="matrix(0.8690 0.00152 -0.00175 1 156.52 246.22)">운영 현황</text>
<text class="num" transform="matrix(0.8126 0.00142 -0.00175 1 156.22 264.69)">260</text>
<text class="unit" transform="matrix(1.0204 0.00178 -0.00175 1 172.15 264.33)">팀</text>
<text class="num" transform="matrix(0.6810 0.00119 -0.00175 1 178.03 264.69)">1,364</text>
<text class="unit" transform="matrix(1.0612 0.00185 -0.00175 1 198.34 264.33)">명</text>
<text class="foot" transform="matrix(0.9404 0.00164 -0.00175 1 156.80 310.31)">('22.4.27 기준)</text>
<text class="lab" transform="matrix(0.8054 0.00141 -0.00175 1 215.39 238.65)">학생·교직원 전용 현장</text>
<text class="lab" transform="matrix(0.7791 0.00136 -0.00175 1 215.28 246.19)">이동형 PCR 검사소 운영 현황</text>
<text class="num" transform="matrix(0.7056 0.00123 -0.00175 1 216.88 264.70)">24</text>
<text class="unit" transform="matrix(0.9631 0.00168 -0.00175 1 226.51 264.33)">개소</text>
<text class="foot" transform="matrix(0.9634 0.00168 -0.00175 1 215.40 310.31)">('22.4.27 기준)</text>
<text class="lab" transform="matrix(0.9033 0.00158 -0.00175 1 36.11 326.60)">원격수업을 위해</text>
<text class="lab" transform="matrix(0.8951 0.00156 -0.00175 1 36.07 334.40)">교사가 업로드한</text>
<text class="lab" transform="matrix(0.8959 0.00156 -0.00175 1 36.07 342.22)">콘텐츠 수</text>
<text class="sub" transform="matrix(0.9276 0.00162 -0.00175 1 36.09 351.73)">2021년</text>
<text class="num" transform="matrix(0.7378 0.00129 -0.00175 1 36.32 365.73)">4,732.8</text>
<text class="unit" transform="matrix(1.0009 0.00175 -0.00175 1 65.51 365.33)">만 개</text>
<text class="lab" transform="matrix(0.8557 0.00149 -0.00175 1 95.52 326.61)">무선망 구축</text>
<text class="lab" transform="matrix(0.8186 0.00143 -0.00175 1 95.49 334.41)">초·중·고 교실 수</text>
<text class="num" transform="matrix(0.7598 0.00133 -0.00175 1 95.73 352.49)">38.6</text>
<text class="unit" transform="matrix(1.0293 0.00180 -0.00175 1 113.30 352.02)">만실(누적)</text>
<text class="foot" transform="matrix(0.9328 0.00163 -0.00175 1 95.80 398.16)">('22.3월 기준)</text>
<text class="lab" transform="matrix(0.8811 0.00154 -0.00175 1 156.52 326.60)">원격수업 시 실시간</text>
<text class="lab" transform="matrix(0.8866 0.00155 -0.00175 1 156.52 334.40)">쌍방향 수업 운영 비율</text>
<text class="sub" transform="matrix(0.8773 0.00153 -0.00175 1 156.50 373.22)">2021년 1학기</text>
<text class="num" transform="matrix(0.6596 0.00115 -0.00175 1 156.31 385.59)">77.6</text>
<text class="unit" transform="matrix(1.0564 0.00184 -0.00175 1 172.10 384.99)">%</text>
<text class="foot" transform="matrix(0.8317 0.00145 -0.00175 1 156.83 398.15)">('21.9.6.~'21.9.10.조사)</text>
<text class="lab" transform="matrix(0.8909 0.00155 -0.00175 1 215.67 326.59)">등교중지 학생 대체학습</text>
<text class="lab" transform="matrix(0.9003 0.00157 -0.00175 1 215.76 334.41)">제공 학교 비율</text>
<text class="num" transform="matrix(0.7944 0.00139 -0.00175 1 215.92 352.50)">99</text>
<text class="unit" transform="matrix(1.0084 0.00176 -0.00175 1 226.90 351.89)">%</text>
<text class="foot" transform="matrix(0.8459 0.00148 -0.00175 1 214.82 398.15)">('21.9.6.~'21.9.10.조사)</text>
<text class="lab" transform="matrix(0.9095 0.00159 -0.00175 1 335.77 62.60)">2020 코로나19 대응 교육 안전과 지원을 위한</text>
<text class="lab" transform="matrix(0.8888 0.00155 -0.00175 1 335.77 70.21)">추가경정예산</text>
<text class="num" transform="matrix(0.7621 0.00133 -0.00175 1 375.55 75.43)">295,958</text>
<text class="unit" transform="matrix(1.0141 0.00177 -0.00175 1 408.25 75.02)">백만 원</text>
<text class="lab" transform="matrix(0.8857 0.00155 -0.00175 1 335.77 87.08)">초등학생 아동 특별돌봄 지원금</text>
<text class="num" transform="matrix(0.8017 0.00140 -0.00175 1 335.52 99.34)">269</text>
<text class="unit" transform="matrix(0.9590 0.00167 -0.00175 1 351.32 98.91)">만 명 대상  1인당</text>
<text class="num" transform="matrix(0.7780 0.00136 -0.00175 1 386.04 99.35)">20</text>
<text class="unit" transform="matrix(0.9968 0.00174 -0.00175 1 396.31 98.92)">만 원 지급</text>
<text class="lab" transform="matrix(0.8813 0.00154 -0.00175 1 335.77 110.49)">중학생 비대면 학습지원금</text>
<text class="num" transform="matrix(0.6604 0.00115 -0.00175 1 335.75 123.54)">132</text>
<text class="unit" transform="matrix(0.9476 0.00165 -0.00175 1 348.92 123.11)">만 명 대상  1인당</text>
<text class="num" transform="matrix(0.6264 0.00109 -0.00175 1 382.98 123.55)">15</text>
<text class="unit" transform="matrix(1.0017 0.00175 -0.00175 1 391.41 123.12)">만 원 지급</text>
<text class="foot" transform="matrix(1.0054 0.00175 -0.00175 1 335.79 132.50)">('20년 10월, 1회 지급)</text>
<text class="lab" transform="matrix(0.8871 0.00155 -0.00175 1 456.27 62.62)">학교 방역물품 및 인력 지원을 위한 예산</text>
<text class="sub" transform="matrix(0.9573 0.00167 -0.00175 1 456.78 76.78)">2020년</text>
<text class="num" transform="matrix(0.7184 0.00125 -0.00175 1 473.70 80.84)">1,539</text>
<text class="unit" transform="matrix(0.9398 0.00164 -0.00175 1 495.07 80.43)">억 원</text>
<text class="foot" transform="matrix(0.9230 0.00161 -0.00175 1 505.91 80.54)">(국고 459억, 특별교부금 1,080억)</text>
<text class="sub" transform="matrix(0.9573 0.00167 -0.00175 1 456.78 98.88)">2021년</text>
<text class="num" transform="matrix(0.7916 0.00138 -0.00175 1 474.22 103.14)">966</text>
<text class="unit" transform="matrix(0.9909 0.00173 -0.00175 1 490.06 102.73)">억 원</text>
<text class="foot" transform="matrix(0.8885 0.00155 -0.00175 1 502.21 102.64)">(국고 386억, 특별교부금 580억)</text>
<text class="sub" transform="matrix(0.9573 0.00167 -0.00175 1 456.78 121.78)">2022년</text>
<text class="num" transform="matrix(0.7184 0.00125 -0.00175 1 473.70 126.24)">1,459</text>
<text class="unit" transform="matrix(0.9398 0.00164 -0.00175 1 495.07 125.83)">억 원</text>
<text class="foot" transform="matrix(0.9038 0.00158 -0.00175 1 507.51 125.56)">(특별교부금)</text>
<text class="lab" transform="matrix(0.8362 0.00146 -0.00175 1 335.70 150.64)">인터넷 통신비(월 19,250원)</text>
<text class="lab" transform="matrix(0.8743 0.00153 -0.00175 1 335.77 158.40)">지원 대상 학생 수</text>
<text class="sub" transform="matrix(0.9499 0.00166 -0.00175 1 335.79 171.28)">2020년</text>
<text class="num" transform="matrix(0.5450 0.00095 -0.00175 1 335.85 183.35)">17.4</text>
<text class="unit" transform="matrix(1.0424 0.00182 -0.00175 1 348.69 182.93)">만 명</text>
<text class="sub" transform="matrix(0.9499 0.00166 -0.00175 1 335.79 196.23)">2021년</text>
<text class="num" transform="matrix(0.5969 0.00104 -0.00175 1 335.80 208.74)">14.1</text>
<text class="unit" transform="matrix(1.0007 0.00175 -0.00175 1 349.71 208.33)">만 명</text>
<text class="lab" transform="matrix(0.8848 0.00154 -0.00175 1 396.07 150.66)">농산물 꾸러미</text>
<text class="lab" transform="matrix(0.8847 0.00154 -0.00175 1 396.07 158.42)">지원</text>
<text class="num" transform="matrix(0.7547 0.00132 -0.00175 1 396.34 177.54)">530</text>
<text class="unit" transform="matrix(1.0005 0.00175 -0.00175 1 411.41 177.11)">만 학생 가정에</text>
<text class="unit" transform="matrix(0.8989 0.00157 -0.00175 1 396.32 192.13)">총</text>
<text class="num" transform="matrix(0.7244 0.00126 -0.00175 1 400.63 192.65)">4.5</text>
<text class="unit" transform="matrix(0.9864 0.00172 -0.00175 1 412.51 192.23)">만여 톤</text>
<text class="lab" transform="matrix(0.8980 0.00157 -0.00175 1 456.27 150.63)">'스마트기기 대여제도'를 통해</text>
<text class="lab" transform="matrix(0.8884 0.00155 -0.00175 1 456.23 158.39)">기기를 대여받은 학생 수</text>
<text class="sub" transform="matrix(0.8979 0.00157 -0.00175 1 456.50 171.38)">2020년</text>
<text class="sub" transform="matrix(0.8864 0.00155 -0.00175 1 475.72 171.38)">1학기</text>
<text class="num" transform="matrix(0.7714 0.00135 -0.00175 1 475.54 183.73)">282,982</text>
<text class="unit" transform="matrix(1.0068 0.00176 -0.00175 1 508.65 183.33)">명</text>
<text class="sub" transform="matrix(0.8685 0.00152 -0.00175 1 521.70 171.38)">2학기</text>
<text class="num" transform="matrix(0.7762 0.00135 -0.00175 1 521.44 183.73)">262,982</text>
<text class="unit" transform="matrix(1.0068 0.00176 -0.00175 1 554.65 183.33)">명</text>
<text class="sub" transform="matrix(0.8979 0.00157 -0.00175 1 456.50 197.08)">2021년</text>
<text class="sub" transform="matrix(0.8864 0.00155 -0.00175 1 475.72 197.08)">1학기</text>
<text class="num" transform="matrix(0.6926 0.00121 -0.00175 1 475.59 209.53)">256,471</text>
<text class="unit" transform="matrix(1.0340 0.00180 -0.00175 1 505.35 209.13)">명</text>
<text class="sub" transform="matrix(0.8685 0.00152 -0.00175 1 521.70 197.08)">2학기</text>
<text class="num" transform="matrix(0.6826 0.00119 -0.00175 1 521.63 209.53)">179,730</text>
<text class="unit" transform="matrix(1.0068 0.00176 -0.00175 1 550.95 209.13)">명</text>
<text class="lab" transform="matrix(0.8974 0.00157 -0.00175 1 336.22 238.67)">긴급돌봄</text>
<text class="lab" transform="matrix(0.8642 0.00151 -0.00175 1 336.28 246.21)">참여 학생 수</text>
<text class="num" transform="matrix(0.7089 0.00124 -0.00175 1 336.21 264.93)">187,300</text>
<text class="unit" transform="matrix(1.0884 0.00190 -0.00175 1 366.63 264.53)">명</text>
<text class="foot" transform="matrix(0.9450 0.00165 -0.00175 1 336.10 310.31)">('20.6.22 기준)</text>
<text class="lab" transform="matrix(0.8798 0.00154 -0.00175 1 396.32 238.65)">장애학생 긴급돌봄</text>
<text class="lab" transform="matrix(0.8928 0.00156 -0.00175 1 396.27 246.19)">학부모 '만족' 응답 비율</text>
<text class="num" transform="matrix(0.7684 0.00134 -0.00175 1 396.13 264.94)">93.3</text>
<text class="unit" transform="matrix(1.1285 0.00197 -0.00175 1 414.19 264.39)">%</text>
<text class="foot" transform="matrix(0.8976 0.00157 -0.00175 1 396.11 310.30)">('20. 10.26.~ 11. 2. 조사)</text>
<text class="lab" transform="matrix(0.8851 0.00154 -0.00175 1 456.77 238.67)">수능시험</text>
<text class="lab" transform="matrix(0.8607 0.00150 -0.00175 1 456.78 246.22)">응시생 수</text>
<text class="sub" transform="matrix(0.8979 0.00157 -0.00175 1 456.80 258.83)">2020년</text>
<text class="num" transform="matrix(0.7064 0.00123 -0.00175 1 456.83 271.23)">421,034</text>
<text class="unit" transform="matrix(1.0612 0.00185 -0.00175 1 487.24 270.83)">명</text>
<text class="sub" transform="matrix(0.8979 0.00157 -0.00175 1 456.80 283.53)">2021년</text>
<text class="num" transform="matrix(0.7202 0.00126 -0.00175 1 456.83 296.03)">448,138</text>
<text class="unit" transform="matrix(1.0612 0.00185 -0.00175 1 487.74 295.63)">명</text>
<text class="foot" transform="matrix(0.8749 0.00153 -0.00175 1 456.82 310.30)">(재학생 및 졸업생 포함)</text>
<text class="lab" transform="matrix(0.8787 0.00153 -0.00175 1 516.77 238.65)">수능시험에 응시한</text>
<text class="lab" transform="matrix(0.8585 0.00150 -0.00175 1 516.82 246.22)">확진자 수</text>
<text class="sub" transform="matrix(0.8905 0.00155 -0.00175 1 516.80 258.83)">2020년</text>
<text class="num" transform="matrix(0.5623 0.00098 -0.00175 1 516.87 271.25)">41</text>
<text class="unit" transform="matrix(1.0612 0.00185 -0.00175 1 524.24 270.83)">명</text>
<text class="sub" transform="matrix(0.8905 0.00155 -0.00175 1 516.80 283.53)">2021년</text>
<text class="num" transform="matrix(0.8272 0.00144 -0.00175 1 516.61 296.05)">96</text>
<text class="unit" transform="matrix(1.0340 0.00180 -0.00175 1 527.45 295.63)">명</text>
<text class="lab" transform="matrix(0.8893 0.00155 -0.00175 1 336.27 326.60)">교육회복을 위한</text>
<text class="lab" transform="matrix(0.8955 0.00156 -0.00175 1 336.27 334.39)">교과보충 프로그램 지원</text>
<text class="subb" transform="matrix(0.7892 0.00138 -0.00175 1 336.37 346.22)">예산</text>
<text class="num" transform="matrix(0.7616 0.00133 -0.00175 1 336.05 358.24)">2,200</text>
<text class="unit" transform="matrix(1.0011 0.00175 -0.00175 1 358.95 357.83)">억 원</text>
<text class="subb" transform="matrix(0.8521 0.00149 -0.00175 1 336.39 371.21)">지원 학생 수</text>
<text class="num" transform="matrix(0.6659 0.00116 -0.00175 1 336.25 383.64)">142</text>
<text class="unit" transform="matrix(1.0632 0.00186 -0.00175 1 349.49 383.23)">만 명</text>
<text class="foot" transform="matrix(0.8135 0.00142 -0.00175 1 336.13 398.14)">('2021년 여름학기, 중복포함)</text>
<text class="lab" transform="matrix(0.9052 0.00158 -0.00175 1 456.47 326.62)">교육부</text>
<text class="lab" transform="matrix(0.8982 0.00157 -0.00175 1 456.47 334.38)">코로나19 상황 및 일일점검 회의,</text>
<text class="lab" transform="matrix(0.8866 0.00155 -0.00175 1 456.52 342.20)">새 학기 오미크론 대응</text>
<text class="lab" transform="matrix(0.8942 0.00156 -0.00175 1 456.24 349.98)">비상 점검·지원 회의 개최 횟수</text>
<text class="num" transform="matrix(0.8024 0.00140 -0.00175 1 456.41 366.74)">330</text>
<text class="unit" transform="matrix(1.0466 0.00183 -0.00175 1 472.59 366.33)">회</text>
<text class="foot" transform="matrix(0.9244 0.00161 -0.00175 1 456.31 398.15)">('20. 1.29.~ '22. 4.26)</text>
<text class="pg" transform="matrix(0.8696 0.00152 -0.00175 1 8.96 416.94)">4</text>
<text class="pg" transform="matrix(0.9130 0.00159 -0.00175 1 588.77 416.84)">5</text>
</g>
</svg>
</body>
</html>
